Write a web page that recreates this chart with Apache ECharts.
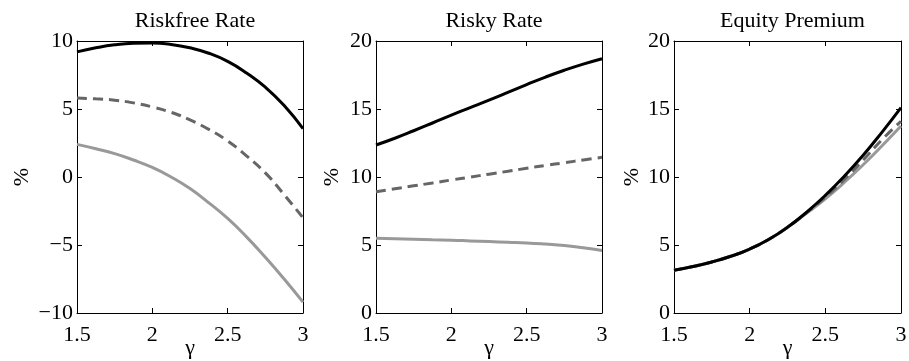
<!DOCTYPE html>
<html><head><meta charset="utf-8">
<script src="https://cdn.jsdelivr.net/npm/echarts@6/dist/echarts.min.js"></script>
<style>html,body{margin:0;padding:0;background:#fff}#c{width:909px;height:361px}</style>
</head><body><div id="c"></div>
<script>
const gamma = [1.5, 1.625, 1.75, 1.875, 2.0, 2.125, 2.25, 2.375, 2.5, 2.625, 2.75, 2.875, 3.0];
const titles = ['Riskfree Rate', 'Risky Rate', 'Equity Premium'];
// Riskfree rate
const rfBlack = [9.2, 9.5, 9.72, 9.83, 9.85, 9.75, 9.5, 9.1, 8.5, 7.65, 6.6, 5.25, 3.55];
const rfDash  = [5.8, 5.75, 5.65, 5.45, 5.15, 4.75, 4.2, 3.5, 2.65, 1.55, 0.3, -1.3, -3.0];
const rfGray  = [2.4, 2.08, 1.72, 1.25, 0.7, 0.0, -0.85, -1.9, -3.05, -4.4, -5.9, -7.5, -9.2];
// Risky rate
const rkBlack = [12.35, 12.85, 13.4, 13.97, 14.55, 15.1, 15.65, 16.22, 16.8, 17.35, 17.85, 18.3, 18.7];
const rkDash  = [8.92, 9.13, 9.35, 9.56, 9.78, 9.99, 10.21, 10.42, 10.64, 10.85, 11.05, 11.25, 11.45];
const rkGray  = [5.5, 5.46, 5.42, 5.38, 5.35, 5.3, 5.25, 5.2, 5.15, 5.07, 4.97, 4.8, 4.6];
// Equity premium
const epBlack = [3.15, 3.42, 3.75, 4.17, 4.7, 5.4, 6.3, 7.4, 8.65, 10.05, 11.6, 13.3, 15.1];
const epDash  = [3.15, 3.42, 3.75, 4.17, 4.7, 5.4, 6.3, 7.37, 8.52, 9.82, 11.25, 12.75, 14.1];
const epGray  = [3.15, 3.42, 3.75, 4.17, 4.7, 5.4, 6.3, 7.33, 8.4, 9.6, 10.9, 12.3, 13.75];
const yRanges = [[-10, 10], [0, 20], [0, 20]];
const panels = [[rfBlack, rfDash, rfGray], [rkBlack, rkDash, rkGray], [epBlack, epDash, epGray]];

const FONT = 'Liberation Serif';
const FS = 22;
const grids = [{left: 77, width: 226}, {left: 376, width: 226}, {left: 674, width: 227}];
const nameGaps = [44, 33, 31];
const opt = {animation: false, backgroundColor: '#fff', title: [], grid: [], xAxis: [], yAxis: [], series: []};
const fmt = v => String(v).replace('-', '\u2212');
const styles = [
  {color: '#000000', width: 3, type: 'solid'},
  {color: '#666666', width: 3, type: [10, 6]},
  {color: '#999999', width: 3, type: 'solid'}
];
grids.forEach((g, i) => {
  opt.grid.push({left: g.left, width: g.width, top: 41, height: 272, containLabel: false, outerBoundsMode: 'none'});
  opt.title.push({text: titles[i], left: g.left + g.width / 2, top: 5, textAlign: 'center',
    textStyle: {fontFamily: FONT, fontSize: FS, fontWeight: 'normal', color: '#000'}});
  const axLine = {show: true, onZero: false, lineStyle: {color: '#000', width: 1}};
  const tick = {show: true, inside: true, length: 5, lineStyle: {color: '#000'}};
  opt.xAxis.push({type: 'value', gridIndex: i, min: 1.5, max: 3, interval: 0.5, position: 'bottom',
    axisLine: axLine, axisTick: tick, splitLine: {show: false},
    axisLabel: {fontFamily: FONT, fontSize: FS, color: '#000', margin: 11, formatter: fmt},
    name: '\u03b3', nameLocation: 'middle', nameGap: 24, nameMoveOverlap: false,
    nameTextStyle: {fontFamily: FONT, fontSize: FS, color: '#000', verticalAlign: 'top'}});
  opt.xAxis.push({type: 'value', gridIndex: i, min: 1.5, max: 3, interval: 0.5, position: 'top',
    axisLine: axLine, axisTick: tick, splitLine: {show: false}, axisLabel: {show: false}});
  opt.yAxis.push({type: 'value', gridIndex: i, min: yRanges[i][0], max: yRanges[i][1], interval: 5, position: 'left',
    axisLine: axLine, axisTick: tick, splitLine: {show: false},
    axisLabel: {fontFamily: FONT, fontSize: FS, color: '#000', margin: 4, formatter: fmt},
    name: '%', nameLocation: 'middle', nameGap: nameGaps[i], nameTextStyle: {fontFamily: FONT, fontSize: FS, color: '#000'}});
  opt.yAxis.push({type: 'value', gridIndex: i, min: yRanges[i][0], max: yRanges[i][1], interval: 5, position: 'right',
    axisLine: axLine, axisTick: tick, splitLine: {show: false}, axisLabel: {show: false}});
  [2, 1, 0].forEach(k => {
    opt.series.push({type: 'line', xAxisIndex: 2 * i, yAxisIndex: 2 * i, smooth: 0.5, symbol: 'none',
      lineStyle: styles[k], z: 2 + (2 - k),
      data: gamma.map((x, j) => [x, panels[i][k][j]])});
  });
});
const chart = echarts.init(document.getElementById('c'), null, {renderer: 'canvas'});
chart.setOption(opt);
</script></body></html>
